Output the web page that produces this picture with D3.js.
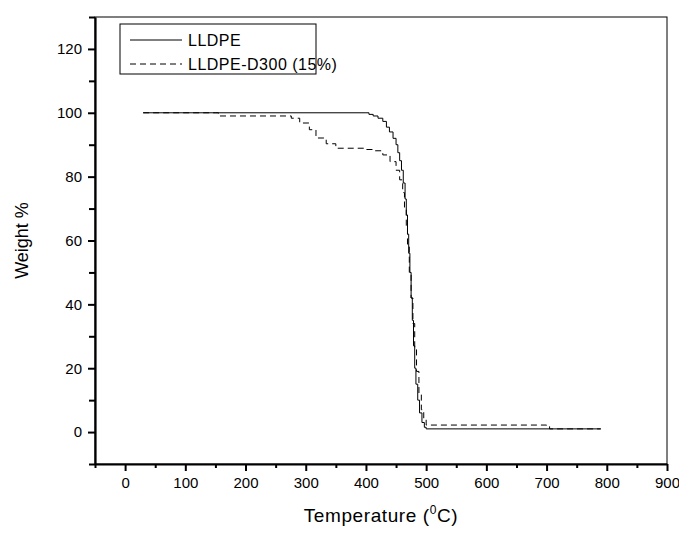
<!DOCTYPE html>
<html>
<head>
<meta charset="utf-8">
<script src="https://cdn.jsdelivr.net/npm/d3@7"></script>
<style>
  body { margin: 0; background: #fff; }
  text { font-family: "Liberation Sans", Arial, sans-serif; }
</style>
</head>
<body>
<svg id="mysvg"></svg>
<script>
const w = 679, h = 534;

// LLDPE (solid)
const tempLLDPE = [30, 400, 405, 412, 420, 428, 434, 439, 445, 450, 453, 456, 459, 462, 465, 467, 469, 471, 473, 475, 477, 479, 481, 483, 486, 489, 493, 497, 500, 790];
const wtLLDPE   = [100, 100, 99.5, 99, 98.3, 97.3, 95.5, 94, 92, 90, 87.5, 85, 82, 78, 73, 68, 62, 56, 50, 42, 35, 27, 20, 15, 10, 6, 3, 1.5, 1, 1];

// LLDPE-D300 (15%) (dashed)
const tempD300 = [30, 150, 155, 270, 276, 290, 306, 317, 334, 350, 400, 411, 428, 440, 450, 456, 461, 464, 467, 469, 472, 475, 478, 481, 484, 488, 492, 496, 500, 700, 705, 790];
const wtD300   = [100, 100, 99, 99, 98.3, 96.8, 94.7, 92.1, 90.3, 88.9, 88.5, 88.1, 86.8, 84.7, 82, 79, 75, 70, 64, 58, 50, 42, 34, 26, 19, 12, 7, 4, 2.2, 2, 1, 1];

const legendLabels = ["LLDPE", "LLDPE-D300 (15%)"];

const xScale = d3.scaleLinear().domain([-50, 900]).range([95, 667]);
const yScale = d3.scaleLinear().domain([-10, 130]).range([464, 17]);

const svg = d3.select("#mysvg").attr("width", w).attr("height", h);

// frame (top/right)
svg.append("rect")
    .attr("x", xScale(-50)).attr("y", yScale(130))
    .attr("width", xScale(900) - xScale(-50))
    .attr("height", yScale(-10) - yScale(130))
    .attr("fill", "none").attr("stroke", "#000").attr("stroke-width", 1);

// Create X axis
const xMajor = d3.range(0, 901, 100);
const xMinor = d3.range(-50, 901, 100);
svg.append("g")
    .attr("transform", "translate(0," + yScale(-10) + ")")
    .call(d3.axisBottom(xScale).tickValues(xMinor).tickSize(4).tickFormat(""))
    .call(g => g.select(".domain").remove())
    .selectAll("line").attr("stroke-width", 2);
const xAxis = svg.append("g")
    .attr("transform", "translate(0," + yScale(-10) + ")")
    .call(d3.axisBottom(xScale).tickValues(xMajor).tickSize(7).tickSizeOuter(0).tickPadding(6));
xAxis.select(".domain").attr("stroke-width", 2.2);
xAxis.selectAll("line").attr("stroke-width", 2);
xAxis.selectAll("text").attr("font-size", 15).attr("fill", "#000");

// Create Y axis
const yMajor = d3.range(0, 121, 20);
const yMinor = d3.range(-10, 131, 20);
svg.append("g")
    .attr("transform", "translate(" + xScale(-50) + ",0)")
    .call(d3.axisLeft(yScale).tickValues(yMinor).tickSize(6).tickFormat(""))
    .call(g => g.select(".domain").remove())
    .selectAll("line").attr("stroke-width", 2);
const yAxis = svg.append("g")
    .attr("transform", "translate(" + xScale(-50) + ",0)")
    .call(d3.axisLeft(yScale).tickValues(yMajor).tickSize(7).tickSizeOuter(0).tickPadding(6));
yAxis.select(".domain").attr("stroke-width", 2.2);
yAxis.selectAll("line").attr("stroke-width", 2);
yAxis.selectAll("text").attr("font-size", 15).attr("fill", "#000");

// axis titles
svg.append("text")
    .attr("transform", "translate(28," + yScale(60) + ") rotate(-90)")
    .attr("text-anchor", "middle")
    .attr("font-size", 18)
    .text("Weight %");

const xt = svg.append("text")
    .attr("x", xScale(425)).attr("y", 522)
    .attr("text-anchor", "middle")
    .attr("font-size", 19)
    .attr("letter-spacing", 0.6);
xt.append("tspan").text("Temperature (");
xt.append("tspan").attr("font-size", 12).attr("dy", -8).text("0");
xt.append("tspan").attr("dy", 8).text("C)");

// curves (stepped, like the instrument export)
const line = d3.line()
    .curve(d3.curveStepAfter)
    .x(d => xScale(d[0]))
    .y(d => yScale(d[1]));

svg.append("path")
    .datum(d3.zip(tempD300, wtD300))
    .attr("fill", "none")
    .attr("stroke", "#000")
    .attr("stroke-width", 1)
    .attr("stroke-dasharray", "6,4")
    .attr("d", line);

svg.append("path")
    .datum(d3.zip(tempLLDPE, wtLLDPE))
    .attr("fill", "none")
    .attr("stroke", "#000")
    .attr("stroke-width", 1)
    .attr("d", line);

// legend
const lg = svg.append("g");
lg.append("rect")
    .attr("x", 120).attr("y", 24)
    .attr("width", 196).attr("height", 50)
    .attr("fill", "#fff").attr("stroke", "#000").attr("stroke-width", 1);
legendLabels.forEach((lab, i) => {
    const y = 40 + i * 24;
    lg.append("line")
        .attr("x1", 130).attr("x2", 182)
        .attr("y1", y).attr("y2", y)
        .attr("stroke", "#000").attr("stroke-width", 1)
        .attr("stroke-dasharray", i === 1 ? "6,4" : null);
    lg.append("text")
        .attr("x", 188).attr("y", y + 6)
        .attr("font-size", 16)
        .attr("letter-spacing", 0.5)
        .text(lab);
});
</script>
</body>
</html>
